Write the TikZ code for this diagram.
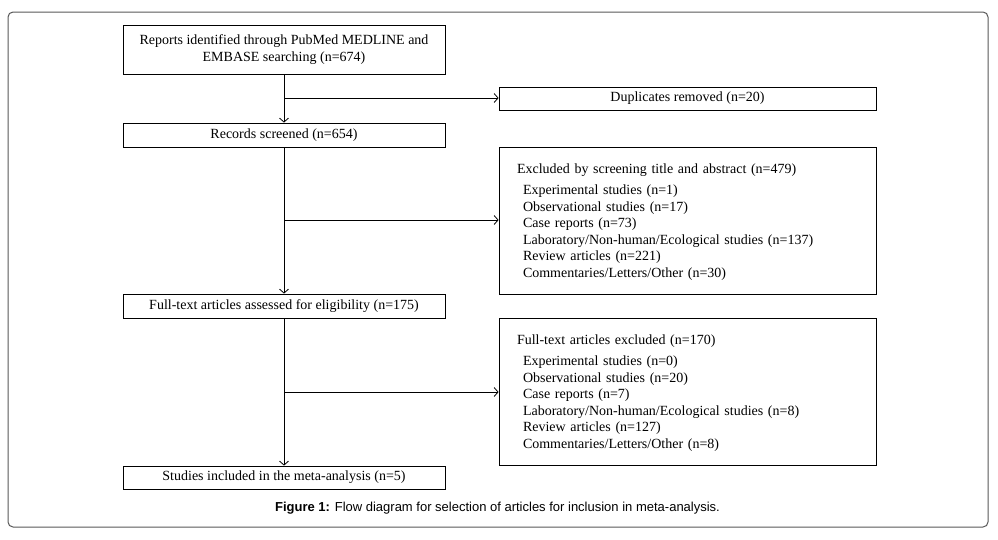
\documentclass[tikz,border=0pt]{standalone}
\usepackage{fontspec}
\setmainfont{Liberation Serif}
\newfontfamily\capfont{Liberation Sans}
\usetikzlibrary{arrows.meta}
\begin{document}
\begin{tikzpicture}[x=1pt,y=-1pt,
  box/.style={draw, line width=0.8pt, minimum width=322pt, inner sep=0pt,
    font=\fontsize{14}{16.5}\selectfont, align=center},
  sidebox/.style={draw, line width=0.8pt, minimum width=377pt, inner xsep=18pt, inner ysep=0pt,
    font=\fontsize{14}{16.5}\selectfont},
  listbox/.style={sidebox, minimum height=147pt},
  listtext/.style={inner sep=0pt, text width=341pt, align=left, font=\fontsize{14}{16.5}\selectfont},
  arr/.style={line width=0.8pt, -{Straight Barb[length=4pt,width=9pt,line width=0.8pt]}},
  frame/.style={draw=black!65, line width=1pt, rounded corners=5pt},
  captext/.style={font=\capfont\fontsize{13}{15}\selectfont, inner sep=0pt}]
\path[fill=white] (0,0) rectangle (998,539);
\useasboundingbox (0,0) rectangle (998,539);

\node[frame, minimum width=980pt, minimum height=515pt] (frame) at (498,269.5) {};

\node[box, minimum height=49pt] (b1) at (284,49.5)
  {Reports identified through PubMed MEDLINE and\\EMBASE searching (n=674)};
\node[sidebox, minimum height=23pt, align=center] (dup) at (687.5,98.5) {Duplicates removed (n=20)};
\node[box, minimum height=24pt] (rec) at (284,135) {Records screened (n=654)};
\node[listbox] (ex1) at (687.5,220.5) {};
\node[listtext] (ex1t) at ([yshift=-1.2pt]ex1.center)
  {Excluded by screening title and abstract (n=479)\\[5pt]
   \hspace*{6pt}Experimental studies (n=1)\\
   \hspace*{6pt}Observational studies (n=17)\\
   \hspace*{6pt}Case reports (n=73)\\
   \hspace*{6pt}Laboratory/Non-human/Ecological studies (n=137)\\
   \hspace*{6pt}Review articles (n=221)\\
   \hspace*{6pt}Commentaries/Letters/Other (n=30)};
\node[box, minimum height=24pt] (full) at (284,306) {Full-text articles assessed for eligibility (n=175)};
\node[listbox] (ex2) at (687.5,391.5) {};
\node[listtext] (ex2t) at ([yshift=-1.2pt]ex2.center)
  {Full-text articles excluded (n=170)\\[5pt]
   \hspace*{6pt}Experimental studies (n=0)\\
   \hspace*{6pt}Observational studies (n=20)\\
   \hspace*{6pt}Case reports (n=7)\\
   \hspace*{6pt}Laboratory/Non-human/Ecological studies (n=8)\\
   \hspace*{6pt}Review articles (n=127)\\
   \hspace*{6pt}Commentaries/Letters/Other (n=8)};
\node[box, minimum height=23pt] (inc) at (284,477.5) {Studies included in the meta-analysis (n=5)};

\coordinate (j1) at (284,98);
\coordinate (j2) at (284,220);
\coordinate (j3) at (284,392);

\draw[arr] (b1) -- (rec);
\draw[arr] (j1) -- (j1 -| dup.west);
\draw[arr] (rec) -- (full);
\draw[arr] (j2) -- (j2 -| ex1.west);
\draw[arr] (full) -- (inc);
\draw[arr] (j3) -- (j3 -| ex2.west);

\node[captext] (caption) at (497.5,508) {\textbf{Figure 1:} Flow diagram for selection of articles for inclusion in meta-analysis.};
\end{tikzpicture}
\end{document}
